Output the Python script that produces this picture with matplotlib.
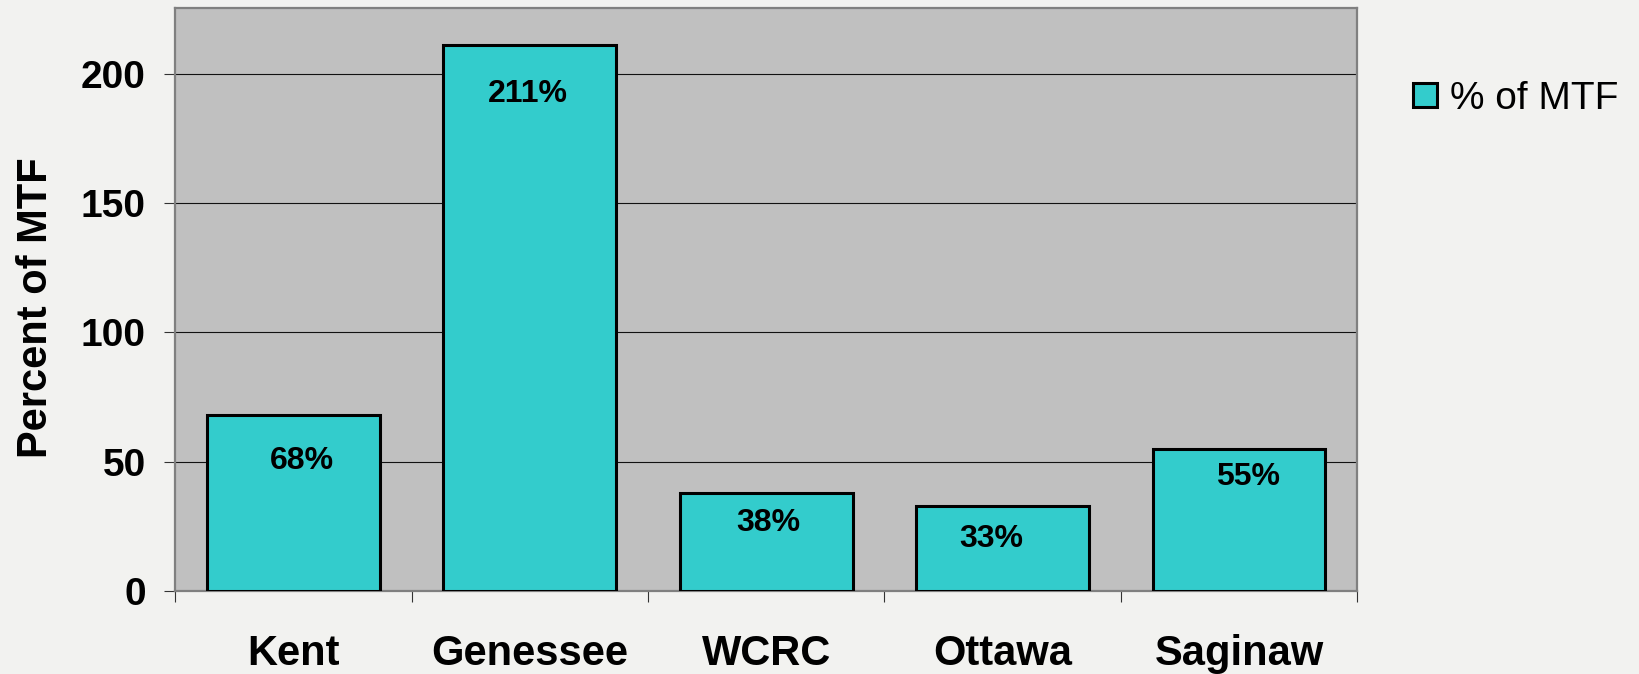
import matplotlib
matplotlib.use("Agg")
import matplotlib.pyplot as plt
import numpy as np

# ========== 数据 ==========
categories = ["Kent", "Genessee", "WCRC", "Ottawa", "Saginaw"]
pct_of_mtf = [68, 211, 38, 33, 55]
bar_labels = ["68%", "211%", "38%", "33%", "55%"]
series_name = "% of MTF"

# label offsets from bar top centre (points) – mimics the original's placement
label_dx = [6.5, -1.5, 1.5, -8, 6.5]
label_dy = [-33, -35, -22, -24, -20]

plt.rcParams['font.family'] = ['Liberation Sans', 'DejaVu Sans']

fig = plt.figure(figsize=(16.39, 6.74), dpi=100, facecolor='#F2F2F0')
ax = fig.add_axes([0.1068, 0.1231, 0.7214, 0.8643])
ax.set_facecolor('#C0C0C0')

x = np.arange(len(categories))
bars = ax.bar(x, pct_of_mtf, width=0.73, color='#33CCCC', edgecolor='black',
              linewidth=2.2, label=series_name, zorder=3)

for rect, txt, dx, dy in zip(bars, bar_labels, label_dx, label_dy):
    ax.annotate(txt, (rect.get_x() + rect.get_width() / 2, rect.get_height()),
                xytext=(dx, dy), textcoords='offset points', ha='center', va='center',
                fontsize=23, fontweight='bold', zorder=4)

ax.set_xlim(-0.5, len(categories) - 0.5)
ax.set_ylim(0, 225.3)
ax.set_yticks([0, 50, 100, 150, 200])
ax.yaxis.grid(True, color='#111111', linewidth=0.8, zorder=1)
ax.set_axisbelow(True)

ax.set_xticks(x)
ax.set_xticklabels(categories, fontsize=30, fontweight='bold')
ax.tick_params(axis='x', which='major', length=0, pad=31)
ax.set_xticks(np.arange(len(categories) + 1) - 0.5, minor=True)
ax.tick_params(axis='x', which='minor', length=8, width=0.8, color='#333333', direction='out')
ax.tick_params(axis='y', length=8, width=0.8, color='#333333', pad=13, labelsize=28)
for lbl in ax.get_yticklabels():
    lbl.set_fontweight('bold')

ax.set_ylabel("Percent of MTF", fontsize=30, fontweight='bold')
ax.yaxis.set_label_coords(-0.1007, 0.486)

for sp in ax.spines.values():
    sp.set_color('#808080')
    sp.set_linewidth(1.6)

leg = ax.legend(loc='center left', bbox_to_anchor=(1.034, 0.845), frameon=False,
                fontsize=28, handlelength=0.6, handleheight=0.6, handletextpad=0.35,
                borderaxespad=0)

fig.savefig("out.png", dpi=100, facecolor=fig.get_facecolor())
